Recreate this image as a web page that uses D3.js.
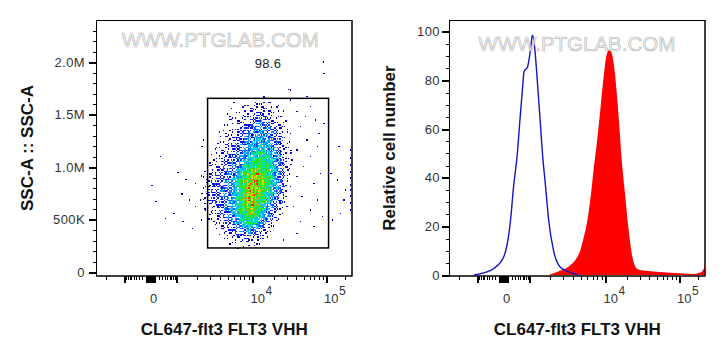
<!DOCTYPE html>
<html><head><meta charset="utf-8">
<script src="https://cdn.jsdelivr.net/npm/d3@7"></script>
<style>
body{margin:0;background:#fff}
svg{display:block}
text{font-family:"Liberation Sans",Arial,Helvetica,sans-serif}
</style>
</head><body>
<svg id="c" width="726" height="360"></svg>
<script>
// ================= DATA =================
const xMajorTicks = [-1000, 0, 1000, 10000, 100000];
const xZeroTicks = [-90,-80,-70,-60,-50,-40,-30,-20,-10,10,20,30,40,50,60,70,80,90];
const xMinorTicks = [-2000,-900,-800,-700,-600,-500,-400,-300,-200,-100,
  100,200,300,400,500,600,700,800,900,
  2000,3000,4000,5000,6000,7000,8000,9000,
  20000,30000,40000,50000,60000,70000,80000,90000,200000];
const xLabelValues = [0, 10000, 100000];
const xLabelBase = ["0", "10", "10"];
const xLabelExp = ["", "4", "5"];

const sscTickValues = [0, 500000, 1000000, 1500000, 2000000];
const sscTickLabels = ["0", "500K", "1.0M", "1.5M", "2.0M"];
const sscMinorTicks = [100000,200000,300000,400000,600000,700000,800000,900000,
  1100000,1200000,1300000,1400000,1600000,1700000,1800000,1900000,2100000,2200000,2300000];

const histTickValues = [0, 20, 40, 60, 80, 100];
const histTickLabels = ["0", "20", "40", "60", "80", "100"];
const histMinorTicks = [5,10,15,25,30,35,45,50,55,65,70,75,85,90,95];

const densityColLog = [3.41,3.46,3.51,3.56,3.61,3.66,3.71,3.76,3.81,3.86,3.91,3.96,4.01,4.06,4.11,4.16,4.21,4.26,4.31,4.36,4.41,4.46,4.51];
const densityRowSSC = [1680000,1640000,1600000,1560000,1520000,1480000,1440000,1400000,1360000,1320000,
  1280000,1240000,1200000,1160000,1120000,1080000,1040000,1000000,960000,920000,
  880000,840000,800000,760000,720000,680000,640000,600000,560000,520000,
  480000,440000,400000,360000,320000,280000,240000];
const densityRows = [
  "00000000000000010000000",
  "00000000000001110000000",
  "00000001001112211101000",
  "00000001011122221111000",
  "00000010111222322211100",
  "00000011112223332211100",
  "00000011122233433221110",
  "00000111122334443322110",
  "00000111223344444332110",
  "00001112233444544432110",
  "00001122334445554433210",
  "00011122334455555443211",
  "00011223344555655443211",
  "00011223344556665543211",
  "00112233445566766544211",
  "00112233445667776654311",
  "01122334456677777654321",
  "01122334456778877654321",
  "11223344567788877654321",
  "12233344567889887654321",
  "12233445678899887654320",
  "12333445678999887654310",
  "12334445678999887654310",
  "12334445678999876654310",
  "12334445678998876543210",
  "12333445678998776543210",
  "11233445678898765432100",
  "11223445678887765432100",
  "01223345677887654321100",
  "01122344567776654321000",
  "00112334566766543211000",
  "00011233455655432110000",
  "00011223344544321100000",
  "00001122333433221000000",
  "00000111222222111000000",
  "00000011111111100000000",
  "00000000101110000000000"
];

const outlierFL = [250,30,1050,1390,1920,2300,1220,120,415,1260,835,1920,2230,2590,1740,2300,1570,2350,2590,2350,2460,
  40700,52800,61700,72200,45100,33000,55700,76200,40700,61700,34800,50100,84400,40700,68700,33000,47500,76200,36700,61700,89100,45100,68700,40700,29700,26800,33000,21700,94000,80400,
  119500,153000,208000,173000,127000,196000,163000,
  250000,250000,250000,250000,250000,250000,250000,250000,250000,250000,
  33000,94000,55700,91800,31400];
const outlierSSC = [1100000,822000,946000,883000,845000,914000,743000,670000,511000,479000,559000,622000,686000,590000,416000,495000,686000,750000,812000,1193000,1257000,
  1527000,1479000,1574000,1448000,1384000,1321000,1257000,1193000,1162000,1098000,1067000,1003000,938000,908000,845000,812000,717000,686000,622000,590000,527000,479000,431000,369000,622000,305000,1638000,1574000,1416000,1321000,
  938000,876000,781000,559000,495000,686000,1193000,
  1162000,1086000,1019000,952000,895000,829000,781000,724000,657000,590000,
  1733000,1892000,1670000,2000000,1740000];

const gateFL = [2780, 110000];
const gateSSC = [229000, 1654000];
const gateLabel = "98.6";
const gateLabelFL = 16400, gateLabelSSC = 1943000;

const blueFL = [-1150,-606,-234,5,162,250,380,483,606,675,873,1052,1107,1186,1286,1350,1452,1570,1740,1920,2230,2720,3490,4720];
const bluePct = [0,0.96,2.7,7.5,22.6,36.3,50,63.7,77.3,83.5,85.5,93.8,98.6,95.2,84.2,76,63.7,50,36.3,22.6,10.3,3.4,1.4,0];
const redFL = [1920,2590,3490,4300,4970,5480,6060,6700,7180,7780,8430,9060,9700,10480,11370,12250,13180,14330,15550,16760,18580,20610,22940,26840,33000,45100,68700,105700,173000,222000,251000,262144];
const redPct = [0,1.4,3.4,6.2,10.3,15.7,22.6,33.5,43.1,52.7,63.7,74.6,84.2,91,92.7,91,85.5,74.6,60.9,47.2,33.5,19.8,8.9,2.7,1.8,1.4,1.0,0.7,0.4,1.0,2.7,4.5];

const xTitle = "CL647-flt3 FLT3 VHH";
const yTitleLeft = "SSC-A :: SSC-A";
const yTitleRight = "Relative cell number";
const watermark = "WWW.PTGLAB.COM";

// ================= LAYOUT =================
const svg = d3.select("#c");
const panelW = 255.5, plotTop = 20.5, plotBottom = 276;
const leftX0 = 96.5, rightX0 = 449.5;
const xDomainAnchors = [-2000, -1000, 0, 1000, 10000, 100000, 262144];
const xRangeAnchors = [9.5, 28, 54, 80, 156, 229.5, 255.5];
function makeX(x0) {
  return d3.scaleSymlog().constant(400).domain(xDomainAnchors).range(xRangeAnchors.map(r => x0 + r));
}
const xL = makeX(leftX0), xR = makeX(rightX0);
const yS = d3.scaleLinear().domain([0, 2000000]).range([272, 62]);
const yH = d3.scaleLinear().domain([0, 100]).range([275, 31.7]);

const tickFont = 13;
function frame(x0, fill) {
  svg.append("rect").attr("x", x0).attr("y", plotTop).attr("width", panelW).attr("height", plotBottom - plotTop)
    .attr("fill", fill).attr("stroke", "#000").attr("stroke-width", 1);
}
frame(leftX0, "#fff"); frame(rightX0, "#fff");

function xAxis(scale) {
  const mk = (vals, size, sw) => {
    svg.append("g").attr("transform", `translate(0,${plotBottom})`).attr("color", "#000")
      .call(d3.axisBottom(scale).tickValues(vals).tickSize(size).tickFormat(""))
      .call(g => g.select(".domain").remove())
      .call(g => g.selectAll("line").attr("stroke-width", sw).attr("shape-rendering", "crispEdges"));
  };
  mk(xMinorTicks, 4, 1);
  mk(xZeroTicks, 6.5, 1);
  mk(xMajorTicks, 7, 2);
  xLabelValues.forEach((v, i) => {
    const px = scale(v);
    if (!xLabelExp[i]) {
      svg.append("text").attr("x", px + 3).attr("y", 303).attr("text-anchor", "middle")
        .attr("font-size", tickFont).attr("fill", "#333").text(xLabelBase[i]);
    } else {
      const t = svg.append("text").attr("x", px - 2).attr("y", 303).attr("font-size", tickFont).attr("fill", "#333");
      t.append("tspan").text(xLabelBase[i]);
      t.append("tspan").attr("dy", -8).attr("dx", 0.5).attr("font-size", 12).text(xLabelExp[i]);
    }
  });
}
xAxis(xL); xAxis(xR);

function yAxis(scale, x0, majors, labels, minors, labelX) {
  svg.append("g").attr("transform", `translate(${x0},0)`).attr("color", "#000")
    .call(d3.axisLeft(scale).tickValues(minors).tickSize(4).tickFormat(""))
    .call(g => g.select(".domain").remove())
    .call(g => g.selectAll("line").attr("shape-rendering", "crispEdges"));
  svg.append("g").attr("transform", `translate(${x0},0)`).attr("color", "#000")
    .call(d3.axisLeft(scale).tickValues(majors).tickSize(8).tickFormat(""))
    .call(g => g.select(".domain").remove())
    .call(g => g.selectAll("line").attr("stroke-width", 2).attr("shape-rendering", "crispEdges"));
  majors.forEach((v, i) => {
    svg.append("text").attr("x", labelX).attr("y", scale(v)).attr("dy", "0.36em")
      .attr("text-anchor", "end").attr("font-size", tickFont).attr("letter-spacing", 0.4)
      .attr("fill", "#333").text(labels[i]);
  });
}
yAxis(yS, leftX0, sscTickValues, sscTickLabels, sscMinorTicks, 85);
yAxis(yH, rightX0, histTickValues, histTickLabels, histMinorTicks, 440);

// ---- left: density plot ----
const mixes = [
  [],
  ["#0000c0"],
  ["#0000ff", "#0000b8"],
  ["#0000ff", "#0050ff", "#0020e8"],
  ["#0050ff", "#0096ff", "#0000ff", "#00b0ff"],
  ["#0096ff", "#00d4f0", "#0050ff", "#00c0f8"],
  ["#00d4f0", "#00ec98", "#00a0ff", "#20e860"],
  ["#30e000", "#00e8a0", "#40e400", "#00d8e0"],
  ["#30e000", "#c8e800", "#40e400", "#00e8a0", "#50e000", "#ff9c00"],
  ["#38e000", "#e0e400", "#ff8c00", "#48e000", "#ff2000", "#c0e800", "#30e000"]
];
const fillCount = [0, 1, 2, 4, 5, 7, 8, 9, 9, 9];
const ditherOrder = [4, 0, 8, 2, 6, 1, 7, 3, 5];
const dens = svg.append("g").attr("shape-rendering", "crispEdges");
densityRows.forEach((row, ri) => {
  const ssc = densityRowSSC[ri];
  const y0 = yS(ssc + 20000), y1 = yS(ssc - 20000);
  for (let ci = 0; ci < row.length && ci < densityColLog.length; ci++) {
    const lvl = +row[ci];
    if (!lvl) continue;
    const L = densityColLog[ci];
    const x0 = xL(Math.pow(10, L - 0.025)), x1 = xL(Math.pow(10, L + 0.025));
    const sw = (x1 - x0) / 3, sh = (y1 - y0) / 3;
    const shift = (ri * 4 + ci * 7) % 9;
    const mix = mixes[lvl];
    for (let k = 0; k < fillCount[lvl]; k++) {
      const pos = ditherOrder[(k + shift) % 9];
      const px = pos % 3, py = Math.floor(pos / 3);
      dens.append("rect").attr("x", x0 + px * sw).attr("y", y0 + py * sh)
        .attr("width", sw + 0.1).attr("height", sh + 0.1)
        .attr("fill", mix[(k + ri + ci) % mix.length]);
    }
  }
});
const outG = svg.append("g").attr("shape-rendering", "crispEdges");
outlierFL.forEach((v, i) => {
  outG.append("rect").attr("x", xL(v) - 0.7).attr("y", yS(outlierSSC[i]) - 0.7)
    .attr("width", 1.4).attr("height", 1.4).attr("fill", "#0000c8");
});
svg.append("rect").attr("x", xL(gateFL[0])).attr("y", yS(gateSSC[1]))
  .attr("width", xL(gateFL[1]) - xL(gateFL[0])).attr("height", yS(gateSSC[0]) - yS(gateSSC[1]))
  .attr("fill", "none").attr("stroke", "#000").attr("stroke-width", 1.5);
svg.append("text").attr("x", xL(gateLabelFL)).attr("y", yS(gateLabelSSC)).attr("text-anchor", "middle")
  .attr("font-size", 13).attr("letter-spacing", 0.3).attr("fill", "#222").text(gateLabel);

// ---- right: histograms ----
const redPts = redFL.map((v, i) => [v, redPct[i]]);
svg.append("path").datum(redPts)
  .attr("d", d3.area().x(d => xR(d[0])).y0(yH(0)).y1(d => yH(d[1])).curve(d3.curveMonotoneX))
  .attr("fill", "#ff0000");
const bluePts = blueFL.map((v, i) => [v, bluePct[i]]);
svg.append("path").datum(bluePts)
  .attr("d", d3.line().x(d => xR(d[0])).y(d => yH(d[1])).curve(d3.curveMonotoneX))
  .attr("fill", "none").attr("stroke", "#1414c8").attr("stroke-width", 1.4);
frame(leftX0, "none"); frame(rightX0, "none");

function wm(x, y) {
  svg.append("text").attr("x", x).attr("y", y).attr("font-size", 20.5)
    .attr("fill", "#f2f2f2").attr("fill-opacity", 0.85).attr("stroke", "#b4b4b4").attr("stroke-width", 0.7)
    .attr("stroke-opacity", 0.9).text(watermark);
}
wm(121.7, 47);
wm(478.3, 51);

svg.append("text").attr("x", leftX0 + panelW / 2).attr("y", 335).attr("text-anchor", "middle")
  .attr("font-size", 17).attr("font-weight", "bold").attr("fill", "#111").text(xTitle);
svg.append("text").attr("x", rightX0 + panelW / 2).attr("y", 335).attr("text-anchor", "middle")
  .attr("font-size", 17).attr("font-weight", "bold").attr("fill", "#111").text(xTitle);
svg.append("text").attr("transform", "translate(33,148) rotate(-90)").attr("text-anchor", "middle")
  .attr("font-size", 17).attr("font-weight", "bold").attr("fill", "#111").text(yTitleLeft);
svg.append("text").attr("transform", "translate(395,148) rotate(-90)").attr("text-anchor", "middle")
  .attr("font-size", 17).attr("font-weight", "bold").attr("fill", "#111").text(yTitleRight);
</script>
</body></html>
